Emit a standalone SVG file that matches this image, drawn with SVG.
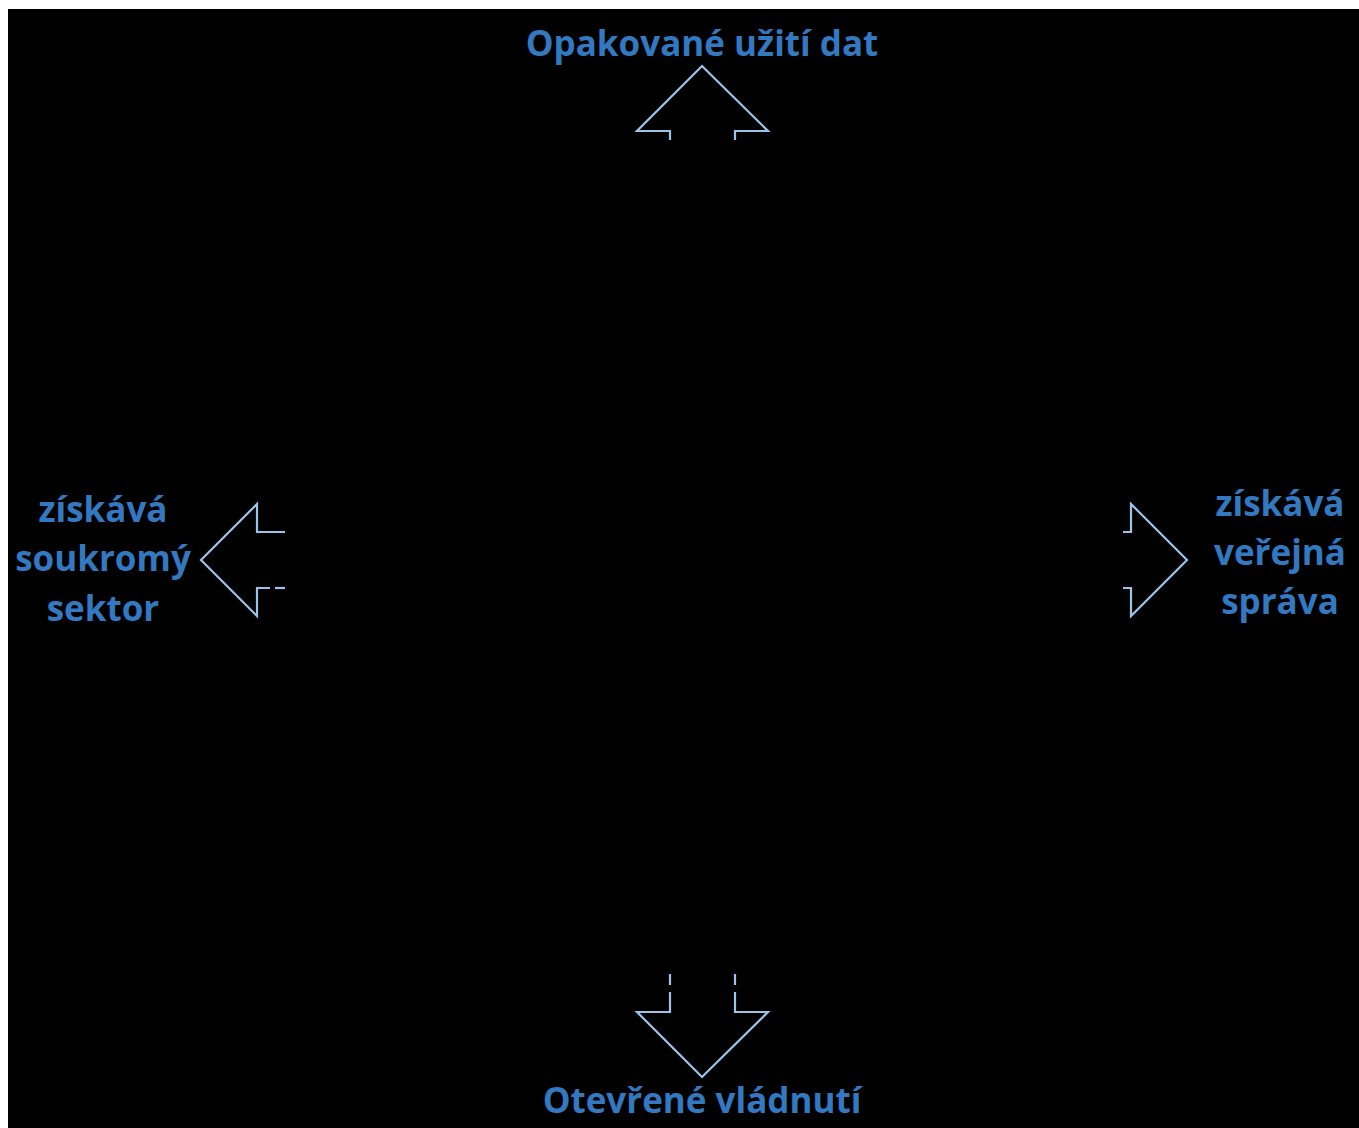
<svg xmlns="http://www.w3.org/2000/svg" width="1359" height="1128" viewBox="0 0 1359 1128">
<style>
.lbl{font-family:"Open Sans","Liberation Sans",sans-serif;font-weight:bold;font-size:35px;fill:#3279C2;text-anchor:middle}
.arr{fill:none;stroke:#9DC3E6;stroke-width:2.2}
</style>
<rect x="0" y="0" width="1359" height="1128" fill="#fff"/>
<rect x="8" y="9" width="1351" height="1119" fill="#000"/>
<g id="connectors">
<g id="arrow-up"><path class="arr" d="M670,140 V131 H637 L702,66 L768,131 H735 V140"/></g>
<g id="arrow-left"><path class="arr" d="M285,532 H257 V504 L201,560 L257,616 V588 H270"/><path class="arr" d="M275,588 H285"/></g>
<g id="arrow-right"><path class="arr" d="M1123,532 H1131 V504 L1187,560 L1131,616 V588 H1123"/></g>
<g id="arrow-down"><path class="arr" d="M670,974 V985 M670,992 V1012 H637 L702,1077 L768,1012 H735 V992 M735,985 V974"/></g>
</g>
<g id="node-top"><text class="lbl" x="702" y="56">Opakované užití dat</text></g>
<g id="node-left"><text class="lbl" x="103" y="522">získává</text><text class="lbl" x="103" y="571">soukromý</text><text class="lbl" x="103" y="621">sektor</text></g>
<g id="node-right"><text class="lbl" x="1280" y="516">získává</text><text class="lbl" x="1280" y="565">veřejná</text><text class="lbl" x="1280" y="614">správa</text></g>
<g id="node-bottom"><text class="lbl" x="702" y="1113">Otevřené vládnutí</text></g>
</svg>
